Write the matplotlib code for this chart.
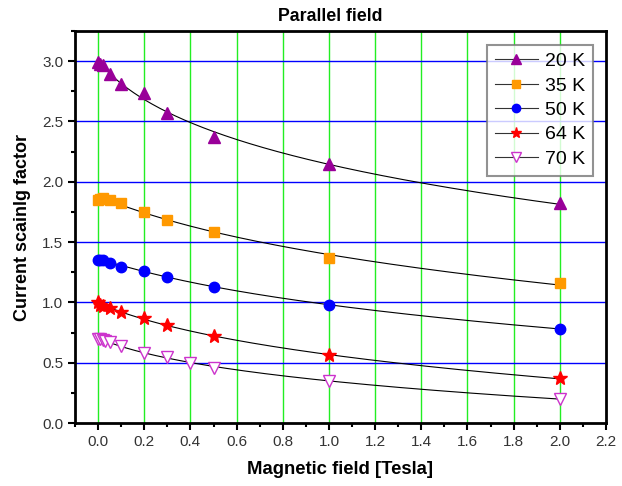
import numpy as np
import matplotlib
matplotlib.use("Agg")
import matplotlib.pyplot as plt
from matplotlib.ticker import MultipleLocator

plt.rcParams['font.family'] = ['Liberation Sans', 'DejaVu Sans']

# field values [T]
field = [0.0, 0.01, 0.02, 0.05, 0.1, 0.2, 0.3, 0.5, 1.0, 2.0]
field_70 = [0.0, 0.01, 0.02, 0.03, 0.05, 0.1, 0.2, 0.3, 0.4, 0.5, 1.0, 2.0]

k20 = [2.99, 2.98, 2.97, 2.89, 2.81, 2.74, 2.57, 2.37, 2.15, 1.82]
k35 = [1.85, 1.855, 1.865, 1.85, 1.82, 1.75, 1.685, 1.58, 1.37, 1.16]
k50 = [1.35, 1.352, 1.355, 1.33, 1.297, 1.264, 1.208, 1.13, 0.98, 0.78]
k64 = [1.0, 0.98, 0.967, 0.953, 0.923, 0.867, 0.81, 0.72, 0.56, 0.37]
k70 = [0.70, 0.695, 0.69, 0.68, 0.67, 0.64, 0.58, 0.545, 0.50, 0.46, 0.35, 0.20]

labels = ['20 K', '35 K', '50 K', '64 K', '70 K']

series = [
    (field, k20, dict(marker='^', color='#990099', mfc='#990099', ms=9)),
    (field, k35, dict(marker='s', color='#ff9900', mfc='#ff9900', ms=7)),
    (field, k50, dict(marker='o', color='#0000ff', mfc='#0000ff', ms=7.5)),
    (field, k64, dict(marker='*', color='#ff0000', mfc='#ff0000', ms=10)),
    (field_70, k70, dict(marker='v', color='#cc33cc', mfc='white', ms=9)),
]

fig = plt.figure(figsize=(6.22, 4.86), dpi=100)
ax = fig.add_axes([0.1206, 0.1296, 0.8536, 0.8066])

for (x, y, st), lab in zip(series, labels):
    x = np.array(x)
    y = np.array(y)
    # smooth fit curve through the measured points (quadratic in log(B + 0.1))
    p = np.polyfit(np.log(x + 0.1), y, 2)
    xf = np.linspace(0, 2.0, 300)
    ax.plot(xf, np.polyval(p, np.log(xf + 0.1)), color='black', lw=0.8, zorder=3)
    ax.plot(x, y, ls='none', marker=st['marker'], ms=st['ms'],
            mfc=st['mfc'], mec=st['color'], mew=1.0, zorder=4)
    # legend proxy
    ax.plot([], [], color='#333333', lw=0.8, marker=st['marker'], ms=st['ms'] * 0.8,
            mfc=st['mfc'], mec=st['color'], label=lab)

ax.set_xlim(-0.1, 2.2)
ax.set_ylim(0.0, 3.25)
ax.xaxis.set_major_locator(MultipleLocator(0.2))
ax.xaxis.set_minor_locator(MultipleLocator(0.1))
ax.yaxis.set_major_locator(MultipleLocator(0.5))
ax.yaxis.set_minor_locator(MultipleLocator(0.25))

for xv in np.arange(0, 2.01, 0.2):
    ax.axvline(xv, color='#22ee22', lw=1.0, zorder=1)
for yv in np.arange(0.5, 3.01, 0.5):
    ax.axhline(yv, color='#0000ff', lw=1.0, zorder=1)

ax.tick_params(which='major', direction='out', length=5, width=1.5, labelsize=11,
               labelcolor='#333333')
ax.tick_params(which='minor', direction='out', length=3, width=1.5)
for sp in ax.spines.values():
    sp.set_linewidth(2)

ax.set_title('Parallel field', fontsize=12.8, fontweight='bold', pad=7, x=0.48)
ax.set_xlabel('Magnetic field [Tesla]', fontsize=13.3, fontweight='bold', labelpad=9)
ax.set_ylabel('Current scainlg factor', fontsize=13, fontweight='bold', labelpad=8)

leg = ax.legend(loc='upper right', bbox_to_anchor=(0.975, 0.965), borderaxespad=0,
                fontsize=14, frameon=True, fancybox=False, edgecolor='#777777',
                handlelength=2.2, handletextpad=0.35, labelspacing=0.35,
                borderpad=0.4)
leg.get_frame().set_linewidth(1.5)

fig.savefig('out.png', dpi=100)
